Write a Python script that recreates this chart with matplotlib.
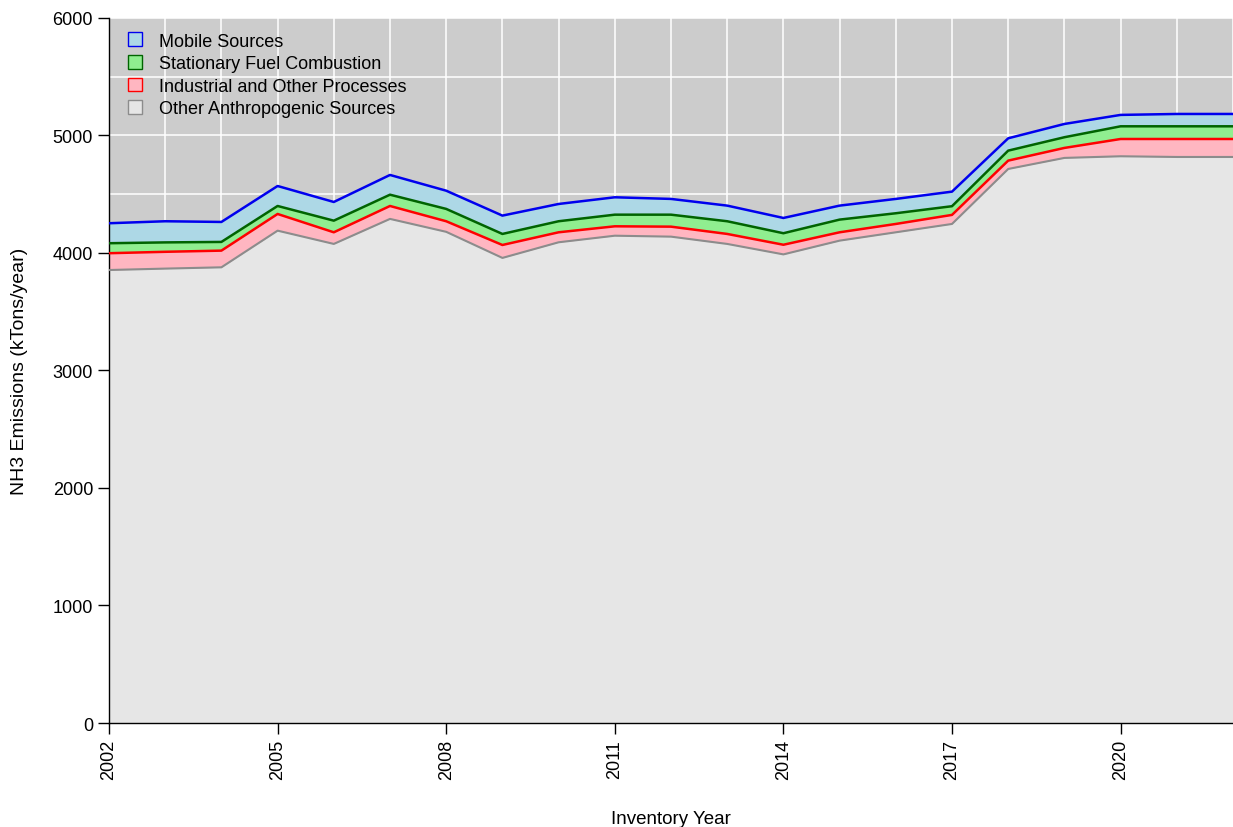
import matplotlib
matplotlib.use("Agg")
import matplotlib.pyplot as plt
from matplotlib.patches import Patch
import numpy as np

plt.rcParams["font.family"] = ["Liberation Sans", "DejaVu Sans"]

# ---------------------------------------------
# DATA (kTons/year, per sector)
# ---------------------------------------------
years = list(range(2002, 2023))
other = [3855, 3867, 3878, 4190, 4077, 4290, 4180, 3958, 4091, 4147, 4139,
         4077, 3988, 4105, 4176, 4247, 4715, 4809, 4823, 4817, 4817]
industrial = [143, 143, 142, 142, 99, 110, 90, 110, 85, 80, 85,
              85, 82, 71, 71, 77, 71, 85, 147, 153, 153]
stationary = [85, 80, 74, 68, 99, 96, 105, 94, 94, 99, 102,
              108, 98, 108, 91, 74, 85, 91, 108, 108, 108]
mobile = [170, 180, 170, 170, 159, 168, 155, 156, 147, 148, 134,
          133, 130, 119, 122, 124, 105, 113, 97, 105, 105]

labels = ["Mobile Sources", "Stationary Fuel Combustion",
          "Industrial and Other Processes", "Other Anthropogenic Sources"]
fills = ["#ADD8E6", "#90EE90", "#FFB6C1", "#E6E6E6"]
edges = ["#0000EE", "#006400", "#FF0000", "#8C8C8C"]

# ---------------------------------------------
# STACK
# ---------------------------------------------
layers = [np.array(other), np.array(industrial), np.array(stationary), np.array(mobile)]
tops = np.cumsum(layers, axis=0)
bottoms = np.vstack([np.zeros(len(years)), tops[:-1]])

fig = plt.figure(figsize=(12.33, 8.28), dpi=100)
ax = fig.add_axes([0.0884, 0.1256, 0.9116, 0.8515])
ax.set_facecolor("#CCCCCC")

# order: other, industrial, stationary, mobile
fill_ord = fills[::-1]
edge_ord = edges[::-1]
for i in range(4):
    ax.fill_between(years, bottoms[i], tops[i], color=fill_ord[i], lw=0, zorder=2)
for i in range(4):
    ax.plot(years, tops[i], color=edge_ord[i], lw=1.8 if i else 1.5, zorder=3)

ax.set_xlim(2002, 2022)
ax.set_ylim(0, 6000)
ax.set_xticks(range(2002, 2022, 3))
ax.set_xticks(range(2002, 2023), minor=True)
ax.set_yticks(range(0, 6001, 1000))
ax.set_yticks(range(0, 6001, 500), minor=True)
ax.grid(True, which="both", color="white", lw=1.1, zorder=1)
ax.set_axisbelow(True)
ax.tick_params(axis="x", which="minor", length=0)
ax.tick_params(axis="y", which="minor", length=0)
ax.tick_params(axis="both", which="major", length=8, width=1, labelsize=13, direction="out")
plt.setp(ax.get_xticklabels(), rotation=90)

for s in ["top", "right"]:
    ax.spines[s].set_visible(False)
ax.spines["left"].set_linewidth(1)
ax.spines["bottom"].set_linewidth(1)

ax.set_xlabel("Inventory Year", fontsize=13.5, labelpad=22)
ax.set_ylabel("NH3 Emissions (kTons/year)", fontsize=14, labelpad=18)

handles = [Patch(facecolor=f, edgecolor=e, lw=1) for f, e in zip(fills, edges)]
ax.legend(handles, labels, loc="upper left", frameon=False, fontsize=13,
          handlelength=0.8, handleheight=0.8, handletextpad=0.9,
          labelspacing=0.3, borderaxespad=0.4, bbox_to_anchor=(0.004, 1.0))

fig.savefig("out.png", dpi=100)
